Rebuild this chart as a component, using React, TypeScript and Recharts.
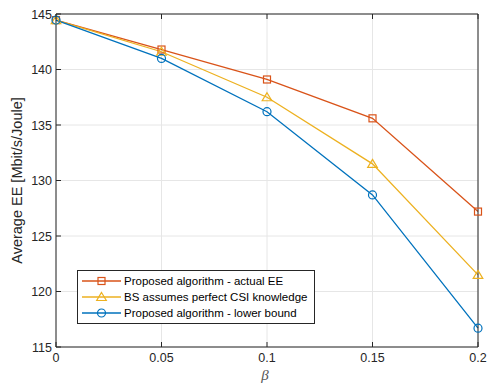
import { LineChart, Line, XAxis, YAxis, CartesianGrid, Legend } from 'recharts';

const betas = [0, 0.05, 0.1, 0.15, 0.2];
const actualEE = [144.45, 141.8, 139.1, 135.6, 127.2];
const perfectCSI = [144.45, 141.6, 137.5, 131.5, 121.5];
const lowerBound = [144.45, 141.0, 136.2, 128.7, 116.7];
const xTicks = [0, 0.05, 0.1, 0.15, 0.2];
const yTicks = [115, 120, 125, 130, 135, 140, 145];

const FONT = '"Liberation Sans", Arial, Helvetica, sans-serif';
const AXIS = '#262626';

const series = [
  { key: 'actual', name: 'Proposed algorithm - actual EE', color: '#D95319', marker: 'square' },
  { key: 'perfect', name: 'BS assumes perfect CSI knowledge', color: '#EDB120', marker: 'triangle' },
  { key: 'lower', name: 'Proposed algorithm - lower bound', color: '#0072BD', marker: 'circle' },
];

const data = betas.map((b, i) => ({
  beta: b,
  actual: actualEE[i],
  perfect: perfectCSI[i],
  lower: lowerBound[i],
}));

function Marker({ type, cx, cy, color }: { type: string; cx: number; cy: number; color: string }) {
  if (type === 'square') {
    return <rect x={cx - 3.5} y={cy - 3.5} width={7} height={7} fill="none" stroke={color} strokeWidth={1.2} />;
  }
  if (type === 'triangle') {
    return (
      <polygon
        points={`${cx},${cy - 4.5} ${cx + 4.8},${cy + 3.5} ${cx - 4.8},${cy + 3.5}`}
        fill="none"
        stroke={color}
        strokeWidth={1.2}
      />
    );
  }
  return <circle cx={cx} cy={cy} r={4} fill="none" stroke={color} strokeWidth={1.2} />;
}

const BottomTick = (p: any) => (
  <g>
    <line x1={p.x} x2={p.x} y1={p.y} y2={p.y - 5} stroke={AXIS} />
    <text x={p.x} y={p.y + 15} textAnchor="middle" fontSize={12.5} fill={AXIS} fontFamily={FONT}>
      {String(p.payload.value)}
    </text>
  </g>
);

const LeftTick = (p: any) => (
  <g>
    <line x1={p.x} x2={p.x + 5} y1={p.y} y2={p.y} stroke={AXIS} />
    <text x={p.x - 4} y={p.y} dy="0.36em" textAnchor="end" fontSize={12.5} fill={AXIS} fontFamily={FONT}>
      {p.payload.value}
    </text>
  </g>
);

const TopTick = (p: any) => <line x1={p.x} x2={p.x} y1={p.y} y2={p.y + 5} stroke={AXIS} />;
const RightTick = (p: any) => <line x1={p.x} x2={p.x - 5} y1={p.y} y2={p.y} stroke={AXIS} />;

function LegendBox() {
  return (
    <div style={{ background: '#fff', border: `1px solid ${AXIS}`, width: 236, padding: '2px 0', fontFamily: FONT, fontSize: 11.5, color: '#000' }}>
      {series.map(s => (
        <div key={s.key} style={{ display: 'flex', alignItems: 'center', height: 16 }}>
          <svg width={46} height={16} style={{ display: 'block' }}>
            <line x1={4} x2={43} y1={8} y2={8} stroke={s.color} strokeWidth={1.3} />
            <Marker type={s.marker} cx={23.5} cy={8} color={s.color} />
          </svg>
          <span style={{ whiteSpace: 'nowrap' }}>{s.name}</span>
        </div>
      ))}
    </div>
  );
}

export default function App() {
  return (
    <div style={{ width: 488, height: 385, background: '#fff' }}>
      <style>{'body{margin:0}'}</style>
      <LineChart width={488} height={385} data={data} margin={{ top: 0, right: 0, bottom: 0, left: 0 }}>
        <CartesianGrid stroke="#e6e6e6" strokeWidth={1} />
        <XAxis
          dataKey="beta"
          type="number"
          domain={[0, 0.2]}
          ticks={xTicks}
          interval={0}
          height={38}
          tickSize={0}
          tickMargin={0}
          stroke={AXIS}
          tick={BottomTick}
          label={{
            content: (props: any) => {
              const vb = props.viewBox || { x: 56, width: 422 };
              return (
                <text
                  x={vb.x + vb.width / 2 - 2}
                  y={380}
                  textAnchor="middle"
                  fontSize={15}
                  fontStyle="italic"
                  fill="#555"
                  fontFamily='"Liberation Serif", "DejaVu Serif", serif'
                >
                  β
                </text>
              );
            },
          }}
        />
        <XAxis
          xAxisId="top"
          orientation="top"
          type="number"
          dataKey="beta"
          domain={[0, 0.2]}
          ticks={xTicks}
          interval={0}
          height={14}
          tickSize={0}
          tickMargin={0}
          stroke={AXIS}
          tick={TopTick}
        />
        <YAxis
          type="number"
          domain={[115, 145]}
          ticks={yTicks}
          interval={0}
          width={56}
          tickSize={0}
          tickMargin={0}
          stroke={AXIS}
          tick={LeftTick}
          label={{
            content: (props: any) => {
              const vb = props.viewBox || { y: 14, height: 333 };
              const cy = vb.y + vb.height / 2;
              return (
                <text
                  x={17}
                  y={cy}
                  transform={`rotate(-90 17 ${cy})`}
                  textAnchor="middle"
                  dy="0.36em"
                  fontSize={14.5}
                  fill={AXIS}
                  fontFamily={FONT}
                >
                  Average EE [Mbit/s/Joule]
                </text>
              );
            },
          }}
        />
        <YAxis
          yAxisId="right"
          orientation="right"
          type="number"
          domain={[115, 145]}
          ticks={yTicks}
          interval={0}
          width={10}
          tickSize={0}
          tickMargin={0}
          stroke={AXIS}
          tick={RightTick}
        />
        <Legend
          layout="vertical"
          align="center"
          verticalAlign="middle"
          wrapperStyle={{ left: 77, top: 270, width: 238 }}
          content={() => <LegendBox />}
        />
        {series.map(s => (
          <Line
            key={s.key}
            dataKey={s.key}
            name={s.name}
            stroke={s.color}
            strokeWidth={1.3}
            isAnimationActive={false}
            dot={(p: any) => <Marker key={`${s.key}-${p.index}`} type={s.marker} cx={p.cx} cy={p.cy} color={s.color} />}
            activeDot={false}
          />
        ))}
      </LineChart>
    </div>
  );
}
